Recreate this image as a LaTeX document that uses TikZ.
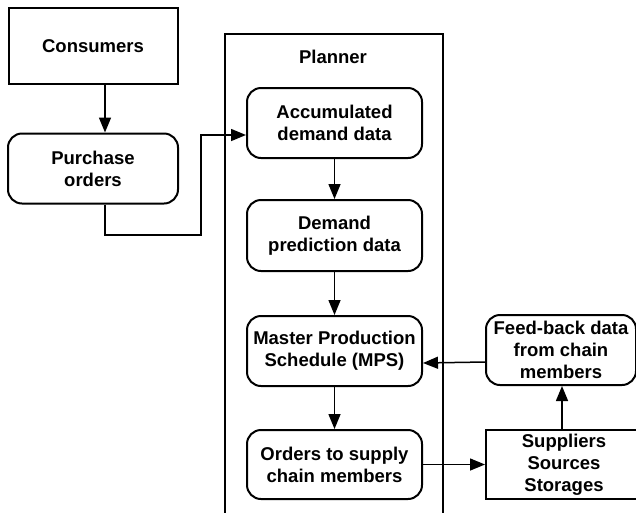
\documentclass[tikz,border=0pt]{standalone}
\usepackage{fontspec}
\setmainfont{Liberation Sans}
\usetikzlibrary{arrows.meta}

\begin{document}
\begin{tikzpicture}[x=1pt,y=-1pt,
  box/.style={draw,line width=2pt,align=center,inner sep=0pt,
    font=\bfseries\fontsize{18.5}{22}\selectfont},
  rbox/.style={box,rounded corners=14pt},
  arr/.style={-{Triangle[length=15pt,width=12pt]},line width=1.5pt}]
\useasboundingbox (0,0) rectangle (636,512);

\draw[line width=1.5pt] (225,530) -- (225,34) -- (443,34) -- (443,530);
\node[font=\bfseries\fontsize{18.5}{22}\selectfont] (planner) at (333,57) {Planner};

\node[box,minimum width=169pt,minimum height=76pt] (cons) at (93,46) {Consumers};
\node[rbox,minimum width=170pt,minimum height=70pt] (purch) at (93,168.5) {Purchase\\orders};

\node[rbox,minimum width=175pt,minimum height=70pt] (accum) at (334.5,123) {Accumulated\\demand data};
\node[rbox,minimum width=175pt,minimum height=71pt] (pred) at (334.5,235.5) {Demand\\prediction data};
\node[rbox,minimum width=175pt,minimum height=70pt] (mps) at (334.5,351) {Master Production\\Schedule (MPS)};
\node[rbox,minimum width=175pt,minimum height=69pt] (orders) at (334.5,464.5) {Orders to supply\\chain members};

\node[rbox,minimum width=150pt,minimum height=70pt] (feed) at (561,350) {Feed-back data\\from chain\\members};
\node[box,minimum width=156pt,minimum height=69pt] (supp) at (564,464.5) {Suppliers\\Sources\\Storages};

\coordinate (bend) at (201,235);

\draw[arr] ([xshift=12pt]cons.south) -- ([xshift=12pt]purch.north);
\draw[arr] ([xshift=12pt]purch.south) |- (bend) |- ([yshift=-12pt]accum.west);
\draw[arr] (accum) -- (pred);
\draw[arr] (pred) -- (mps);
\draw[arr] (mps) -- (orders);
\draw[arr] (orders) -- (supp);
\draw[arr] ([yshift=-12pt]feed.west) -- ([yshift=-12pt]mps.east);
\draw[arr] ([xshift=-2pt]supp.north) -- ([xshift=-2pt]supp.north |- feed.south);

\end{tikzpicture}
\end{document}
